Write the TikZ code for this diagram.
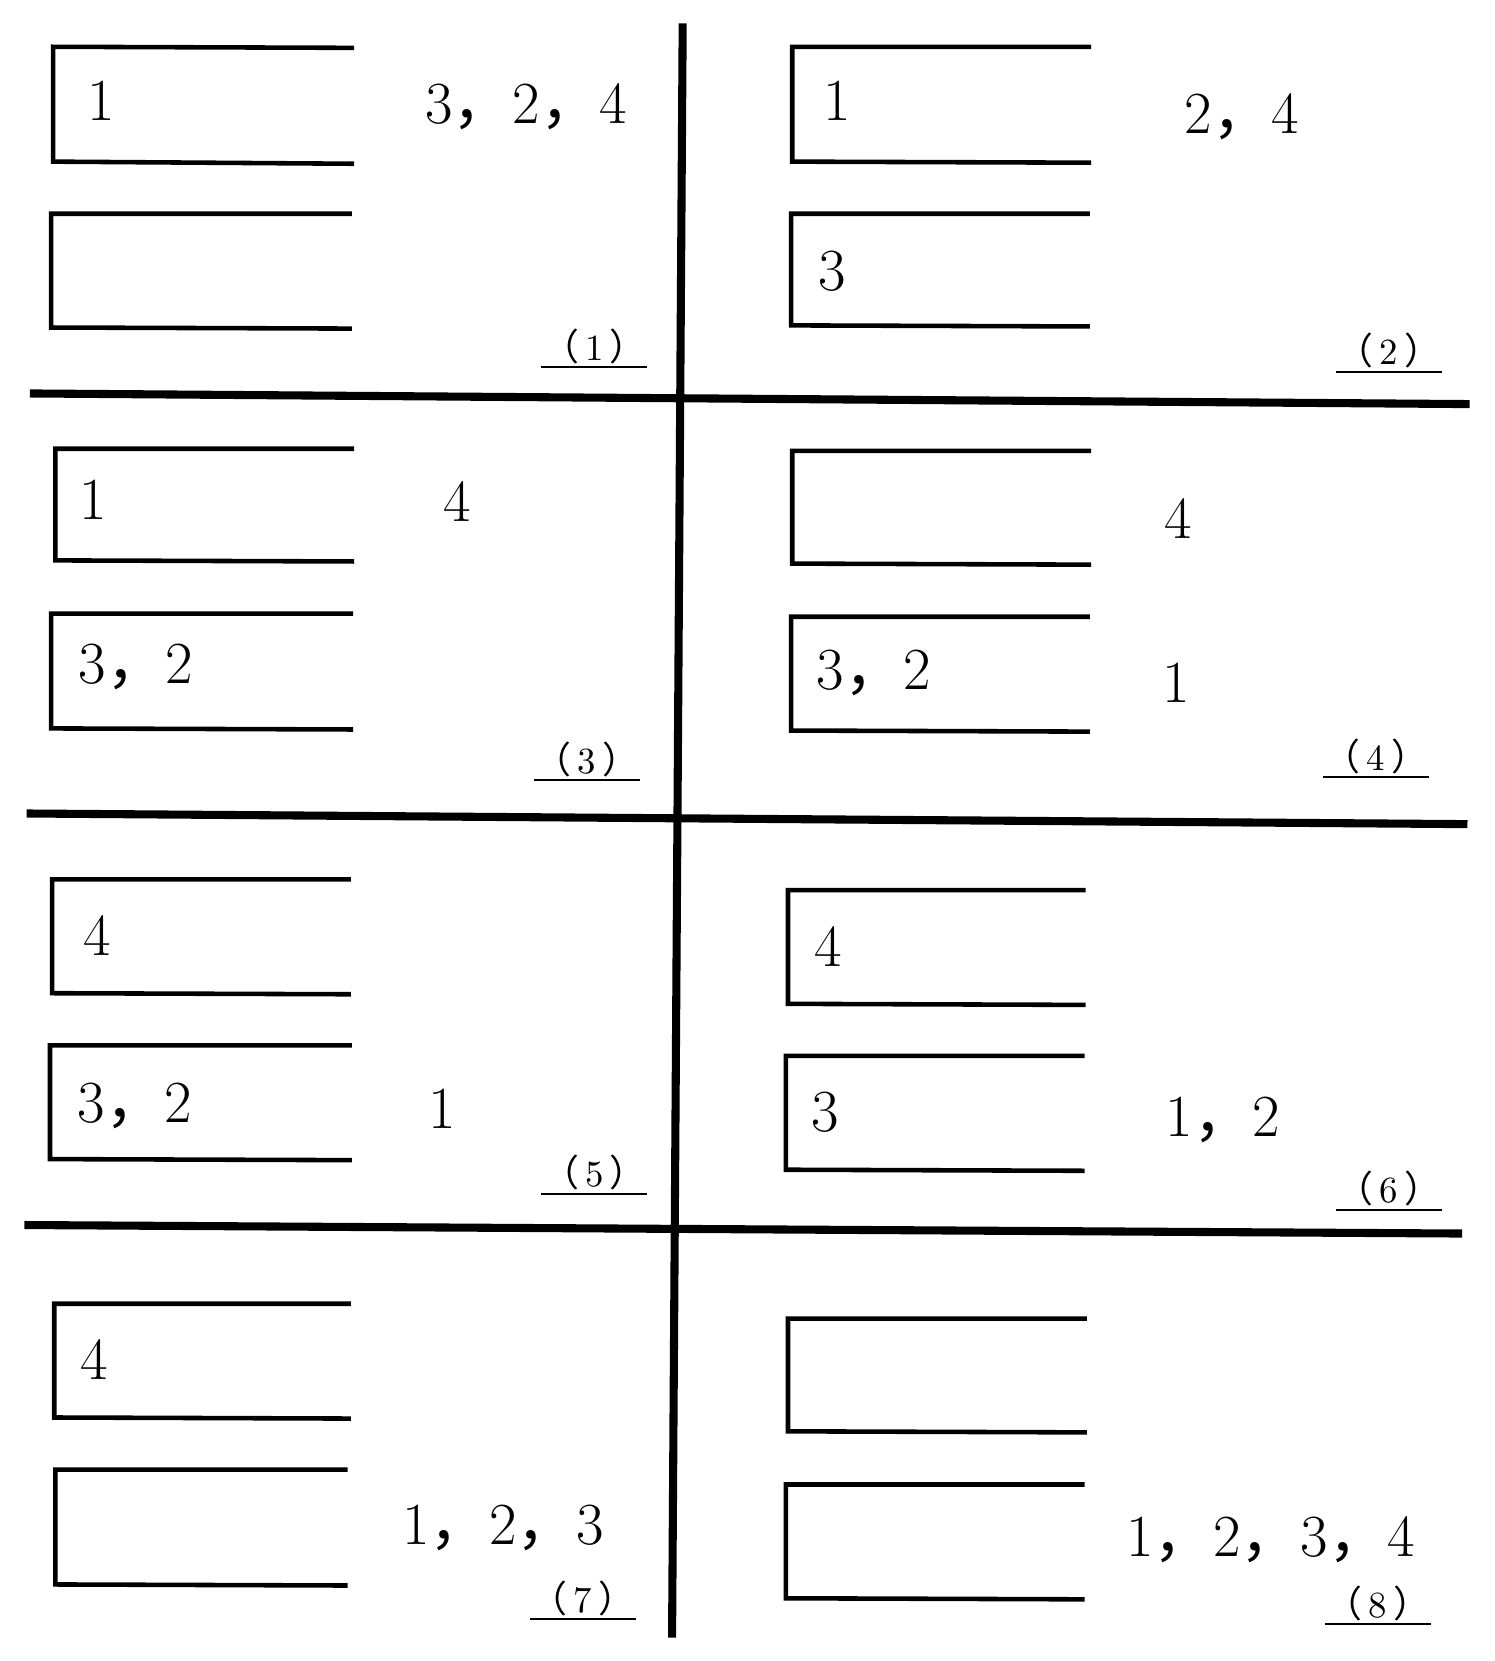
\documentclass[tikz,border=0pt]{standalone}
\usepackage{fontspec}
\newfontfamily\cjk{Noto Sans CJK SC}
\usetikzlibrary{positioning}
\newcommand{\dou}{{\cjk ，}}
\newcommand{\tagno}[1]{{\cjk （}\,#1\,{\cjk ）}}
\tikzset{
	tray/.style = {line width = 1.3pt, line join = miter},
	wall/.style = {line width = 2.3pt},
	num/.style  = {font = \fontsize{17}{20}\selectfont, inner sep = 0pt},
	tag/.style  = {font = \fontsize{10.5}{12}\selectfont, inner sep = 0pt, minimum width = 1.0cm, minimum height = 0.4cm},
	uline/.style = {line width = 0.6pt}
}

\begin{document}
\begin{tikzpicture}[x = 0.010635cm, y = -0.010635cm]
	\useasboundingbox (0,0) rectangle (1405,1562);

	% dividers
	\draw[wall] (642,22)  -- (632,1540);
	\draw[wall] (28,370)  -- (1382,380);
	\draw[wall] (25,765)  -- (1380,775);
	\draw[wall] (23,1152) -- (1375,1160);

	% (1)
	\draw[tray] (333,45)  -- (50,44)  -- (50,152) -- (333,154);
	\draw[tray] (331,201) -- (48,201) -- (48,308) -- (331,309);
	\node[num] (a1) at (95,95)   {1};
	\node[num] (r1) at (495,100) {3\dou 2\dou 4};
	\node[tag] (l1) at (559,326) {\tagno{1}};
	\draw[uline] (l1.south west) -- (l1.south east);

	% (2)
	\draw[tray] (1026,44)  -- (745,44)  -- (745,152) -- (1026,153);
	\draw[tray] (1025,201) -- (744,201) -- (744,306) -- (1025,307);
	\node[num] (a2) at (787,95)   {1};
	\node[num] (b2) at (783,255)  {3};
	\node[num] (r2) at (1168,110) {2\dou 4};
	\node[tag] (l2) at (1306,330) {\tagno{2}};
	\draw[uline] (l2.south west) -- (l2.south east);

	% (3)
	\draw[tray] (333,422) -- (52,422) -- (52,527) -- (333,528);
	\draw[tray] (332,577) -- (48,577) -- (48,685) -- (332,686);
	\node[num] (a3) at (88,470)  {1};
	\node[num] (b3) at (128,627) {3\dou 2};
	\node[num] (r3) at (430,472) {4};
	\node[tag] (l3) at (552,714) {\tagno{3}};
	\draw[uline] (l3.south west) -- (l3.south east);

	% (4)
	\draw[tray] (1026,424) -- (745,424) -- (745,530) -- (1026,531);
	\draw[tray] (1025,580) -- (744,580) -- (744,687) -- (1025,688);
	\node[num] (b4) at (822,633)  {3\dou 2};
	\node[num] (r4) at (1108,488) {4};
	\node[num] (s4) at (1106,642) {1};
	\node[tag] (l4) at (1294,711) {\tagno{4}};
	\draw[uline] (l4.south west) -- (l4.south east);

	% (5)
	\draw[tray] (330,827) -- (49,827) -- (49,934)  -- (330,935);
	\draw[tray] (331,983) -- (47,983) -- (47,1090) -- (331,1091);
	\node[num] (a5) at (91,880)   {4};
	\node[num] (b5) at (127,1040) {3\dou 2};
	\node[num] (s5) at (416,1043) {1};
	\node[tag] (l5) at (559,1103) {\tagno{5}};
	\draw[uline] (l5.south west) -- (l5.south east);

	% (6)
	\draw[tray] (1021,837) -- (741,837) -- (741,944)  -- (1021,945);
	\draw[tray] (1020,993) -- (739,993) -- (739,1100) -- (1020,1101);
	\node[num] (a6) at (779,890)   {4};
	\node[num] (b6) at (776,1046)  {3};
	\node[num] (s6) at (1150,1053) {1\dou 2};
	\node[tag] (l6) at (1306,1118) {\tagno{6}};
	\draw[uline] (l6.south west) -- (l6.south east);

	% (7)
	\draw[tray] (330,1226) -- (51,1226) -- (51,1333) -- (330,1334);
	\draw[tray] (327,1382) -- (52,1382) -- (52,1490) -- (327,1491);
	\node[num] (a7) at (89,1278)  {4};
	\node[num] (s7) at (473,1437) {1\dou 2\dou 3};
	\node[tag] (l7) at (548,1503) {\tagno{7}};
	\draw[uline] (l7.south west) -- (l7.south east);

	% (8)
	\draw[tray] (1022,1240) -- (741,1240) -- (741,1346) -- (1022,1347);
	\draw[tray] (1020,1396) -- (739,1396) -- (739,1503) -- (1020,1504);
	\node[num] (s8) at (1195,1448) {1\dou 2\dou 3\dou 4};
	\node[tag] (l8) at (1296,1508) {\tagno{8}};
	\draw[uline] (l8.south west) -- (l8.south east);
\end{tikzpicture}
\end{document}
